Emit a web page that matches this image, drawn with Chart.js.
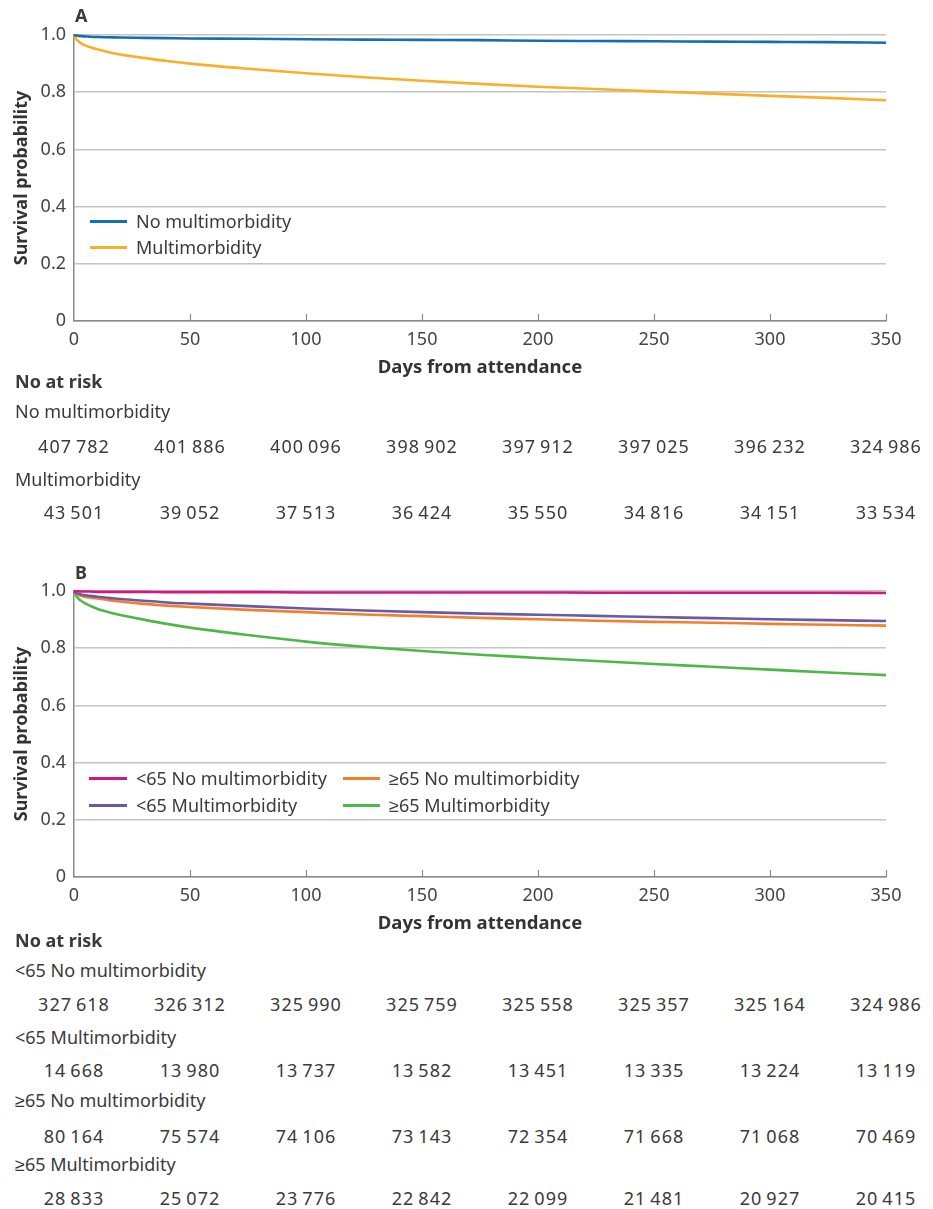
<!DOCTYPE html>
<html>
<head>
<meta charset="utf-8">
<title>Survival by multimorbidity</title>
<script src="https://cdn.jsdelivr.net/npm/chart.js"></script>
<style>
  body { margin: 0; background: #fff; font-family: "Noto Sans", sans-serif; color: #3a3a3a; }
  #page { position: relative; width: 933px; height: 1209px; overflow: hidden; }
  canvas { position: absolute; left: 0; }
  .txt { position: absolute; font-size: 18px; line-height: 24px; white-space: nowrap; }
  .bold { font-weight: bold; }
  .num { text-align: center; width: 140px; letter-spacing: 1px; }
  .sw { position: absolute; height: 3px; }
</style>
</head>
<body>
<div id="page">
  <canvas id="chartA" width="933" height="390" style="top:0"></canvas>
  <canvas id="chartB" width="933" height="390" style="top:556px"></canvas>
</div>
<script>
const days = [0, 1, 2, 3, 5, 7, 10, 15, 20, 30, 40, 50, 75, 100, 125, 150, 175, 200, 225, 250, 275, 300, 325, 350];

// panel A
const noMulti = [1, 0.998, 0.997, 0.996, 0.995, 0.994, 0.993, 0.992, 0.991, 0.990, 0.989, 0.988, 0.987, 0.985, 0.984, 0.983, 0.982, 0.980, 0.979, 0.978, 0.977, 0.976, 0.975, 0.973];
const multi = [1, 0.985, 0.977, 0.971, 0.963, 0.957, 0.950, 0.940, 0.932, 0.920, 0.909, 0.900, 0.882, 0.866, 0.852, 0.840, 0.829, 0.819, 0.811, 0.803, 0.795, 0.787, 0.780, 0.772];

// panel B
const under65NoMulti = [1, 0.999, 0.999, 0.998, 0.998, 0.998, 0.997, 0.997, 0.997, 0.997, 0.996, 0.996, 0.996, 0.995, 0.995, 0.995, 0.995, 0.995, 0.994, 0.994, 0.994, 0.994, 0.994, 0.993];
const under65Multi = [1, 0.993, 0.990, 0.988, 0.985, 0.983, 0.980, 0.976, 0.972, 0.966, 0.960, 0.956, 0.947, 0.939, 0.932, 0.926, 0.921, 0.917, 0.913, 0.909, 0.905, 0.901, 0.898, 0.895];
const over65NoMulti = [1, 0.990, 0.986, 0.983, 0.979, 0.977, 0.974, 0.968, 0.963, 0.955, 0.949, 0.944, 0.934, 0.926, 0.918, 0.912, 0.906, 0.901, 0.896, 0.892, 0.889, 0.885, 0.882, 0.879];
const over65Multi = [1, 0.982, 0.973, 0.966, 0.956, 0.948, 0.938, 0.926, 0.916, 0.900, 0.885, 0.872, 0.846, 0.823, 0.805, 0.790, 0.777, 0.766, 0.755, 0.745, 0.735, 0.725, 0.715, 0.706];

// numbers at risk
const riskDays = [0, 50, 100, 150, 200, 250, 300, 350];
const riskNoMulti = [407782, 401886, 400096, 398902, 397912, 397025, 396232, 324986];
const riskMulti = [43501, 39052, 37513, 36424, 35550, 34816, 34151, 33534];
const riskU65No = [327618, 326312, 325990, 325759, 325558, 325357, 325164, 324986];
const riskU65Multi = [14668, 13980, 13737, 13582, 13451, 13335, 13224, 13119];
const riskO65No = [80164, 75574, 74106, 73143, 72354, 71668, 71068, 70469];
const riskO65Multi = [28833, 25072, 23776, 22842, 22099, 21481, 20927, 20415];

const FONT = '"Noto Sans", sans-serif';
const page = document.getElementById('page');

function fmt(n) {
  return String(n).replace(/\B(?=(\d{3})+(?!\d))/g, '\u2009');
}

function addText(s, x, yc, cls) {
  const d = document.createElement('div');
  d.className = 'txt ' + (cls || '');
  d.textContent = s;
  d.style.left = x + 'px';
  d.style.top = (yc - 12) + 'px';
  page.appendChild(d);
  return d;
}

function addSwatch(color, x1, x2, yc) {
  const s = document.createElement('div');
  s.className = 'sw';
  s.style.background = color;
  s.style.left = x1 + 'px';
  s.style.width = (x2 - x1) + 'px';
  s.style.top = (yc - 1.5) + 'px';
  page.appendChild(s);
}

// little tick marks pointing up into the plot from the x axis
const innerTicks = {
  id: 'innerTicks',
  beforeDatasetsDraw(chart) {
    const ctx = chart.ctx, xs = chart.scales.x, bottom = chart.chartArea.bottom;
    ctx.save();
    ctx.strokeStyle = '#8a8a8a';
    ctx.lineWidth = 1.2;
    xs.ticks.forEach(t => {
      if (t.value === 0) return;
      const px = Math.round(xs.getPixelForValue(t.value)) + 0.5;
      ctx.beginPath();
      ctx.moveTo(px, bottom);
      ctx.lineTo(px, bottom - 7);
      ctx.stroke();
    });
    ctx.restore();
  }
};

function makeChart(id, series) {
  return new Chart(document.getElementById(id), {
    type: 'line',
    data: {
      datasets: series.map(s => ({
        label: s.label,
        data: days.map((d, i) => ({ x: d, y: s.values[i] })),
        borderColor: s.color,
        borderWidth: 2.6,
        pointRadius: 0,
        cubicInterpolationMode: 'monotone',
        clip: false
      }))
    },
    options: {
      responsive: false,
      animation: false,
      layout: { padding: { top: 35, right: 47, bottom: 9, left: 0 } },
      plugins: { legend: { display: false }, tooltip: { enabled: false } },
      scales: {
        x: {
          type: 'linear', min: 0, max: 350,
          afterFit: s => { s.height = 60; },
          ticks: { stepSize: 50, padding: 8, color: '#444', font: { family: FONT, size: 18 } },
          grid: { display: false, drawTicks: false },
          border: { color: '#8a8a8a', width: 1.5 },
          title: { display: true, text: 'Days from attendance', color: '#333', padding: { top: 0, bottom: 2 },
                   font: { family: FONT, size: 18.5, weight: 'bold' } }
        },
        y: {
          min: 0, max: 1,
          afterFit: s => { s.width = 74; },
          ticks: { stepSize: 0.2, padding: 8, color: '#444', font: { family: FONT, size: 18 },
                   callback: v => v === 0 ? '0' : v.toFixed(1) },
          grid: { color: '#c4c4c4', lineWidth: 1.5, drawTicks: false },
          border: { color: '#8a8a8a', width: 1.5 },
          title: { display: true, text: 'Survival probability', color: '#333', padding: { top: 11, bottom: 0 },
                   font: { family: FONT, size: 18, weight: 'bold' } }
        }
      }
    },
    plugins: [innerTicks]
  });
}

const BLUE = '#156db4', AMBER = '#fbae27';
const MAGENTA = '#d6157f', PURPLE = '#6a5aa6', ORANGE = '#f47f2b', GREEN = '#4db848';

const chartA = makeChart('chartA', [
  { label: 'No multimorbidity', values: noMulti, color: BLUE },
  { label: 'Multimorbidity', values: multi, color: AMBER }
]);
const chartB = makeChart('chartB', [
  { label: '<65 No multimorbidity', values: under65NoMulti, color: MAGENTA },
  { label: '<65 Multimorbidity', values: under65Multi, color: PURPLE },
  { label: '\u226565 No multimorbidity', values: over65NoMulti, color: ORANGE },
  { label: '\u226565 Multimorbidity', values: over65Multi, color: GREEN }
]);

// panel letters
addText('A', 75, 15, 'bold');
addText('B', 75, 572, 'bold');

// legends
addSwatch(BLUE, 90, 127, 221); addText('No multimorbidity', 136, 221);
addSwatch(AMBER, 90, 127, 247); addText('Multimorbidity', 136, 247);

addSwatch(MAGENTA, 89, 127, 778); addText('<65 No multimorbidity', 136, 778);
addSwatch(PURPLE, 89, 127, 805); addText('<65 Multimorbidity', 136, 805);
addSwatch(ORANGE, 343, 380, 778); addText('\u226565 No multimorbidity', 389, 778);
addSwatch(GREEN, 343, 380, 805); addText('\u226565 Multimorbidity', 389, 805);

// number-at-risk tables, columns placed on the chart's own x scale
function riskRow(chart, values, yc) {
  const xs = chart.scales.x;
  riskDays.forEach((d, i) => {
    addText(fmt(values[i]), xs.getPixelForValue(d) - 70, yc, 'num');
  });
}

addText('No at risk', 15, 381, 'bold');
addText('No multimorbidity', 15, 411);
riskRow(chartA, riskNoMulti, 446);
addText('Multimorbidity', 15, 479);
riskRow(chartA, riskMulti, 512);

addText('No at risk', 15, 940, 'bold');
addText('<65 No multimorbidity', 15, 970);
riskRow(chartB, riskU65No, 1004);
addText('<65 Multimorbidity', 15, 1037);
riskRow(chartB, riskU65Multi, 1070);
addText('\u226565 No multimorbidity', 15, 1100);
riskRow(chartB, riskO65No, 1136);
addText('\u226565 Multimorbidity', 15, 1164);
riskRow(chartB, riskO65Multi, 1198);
</script>
</body>
</html>
